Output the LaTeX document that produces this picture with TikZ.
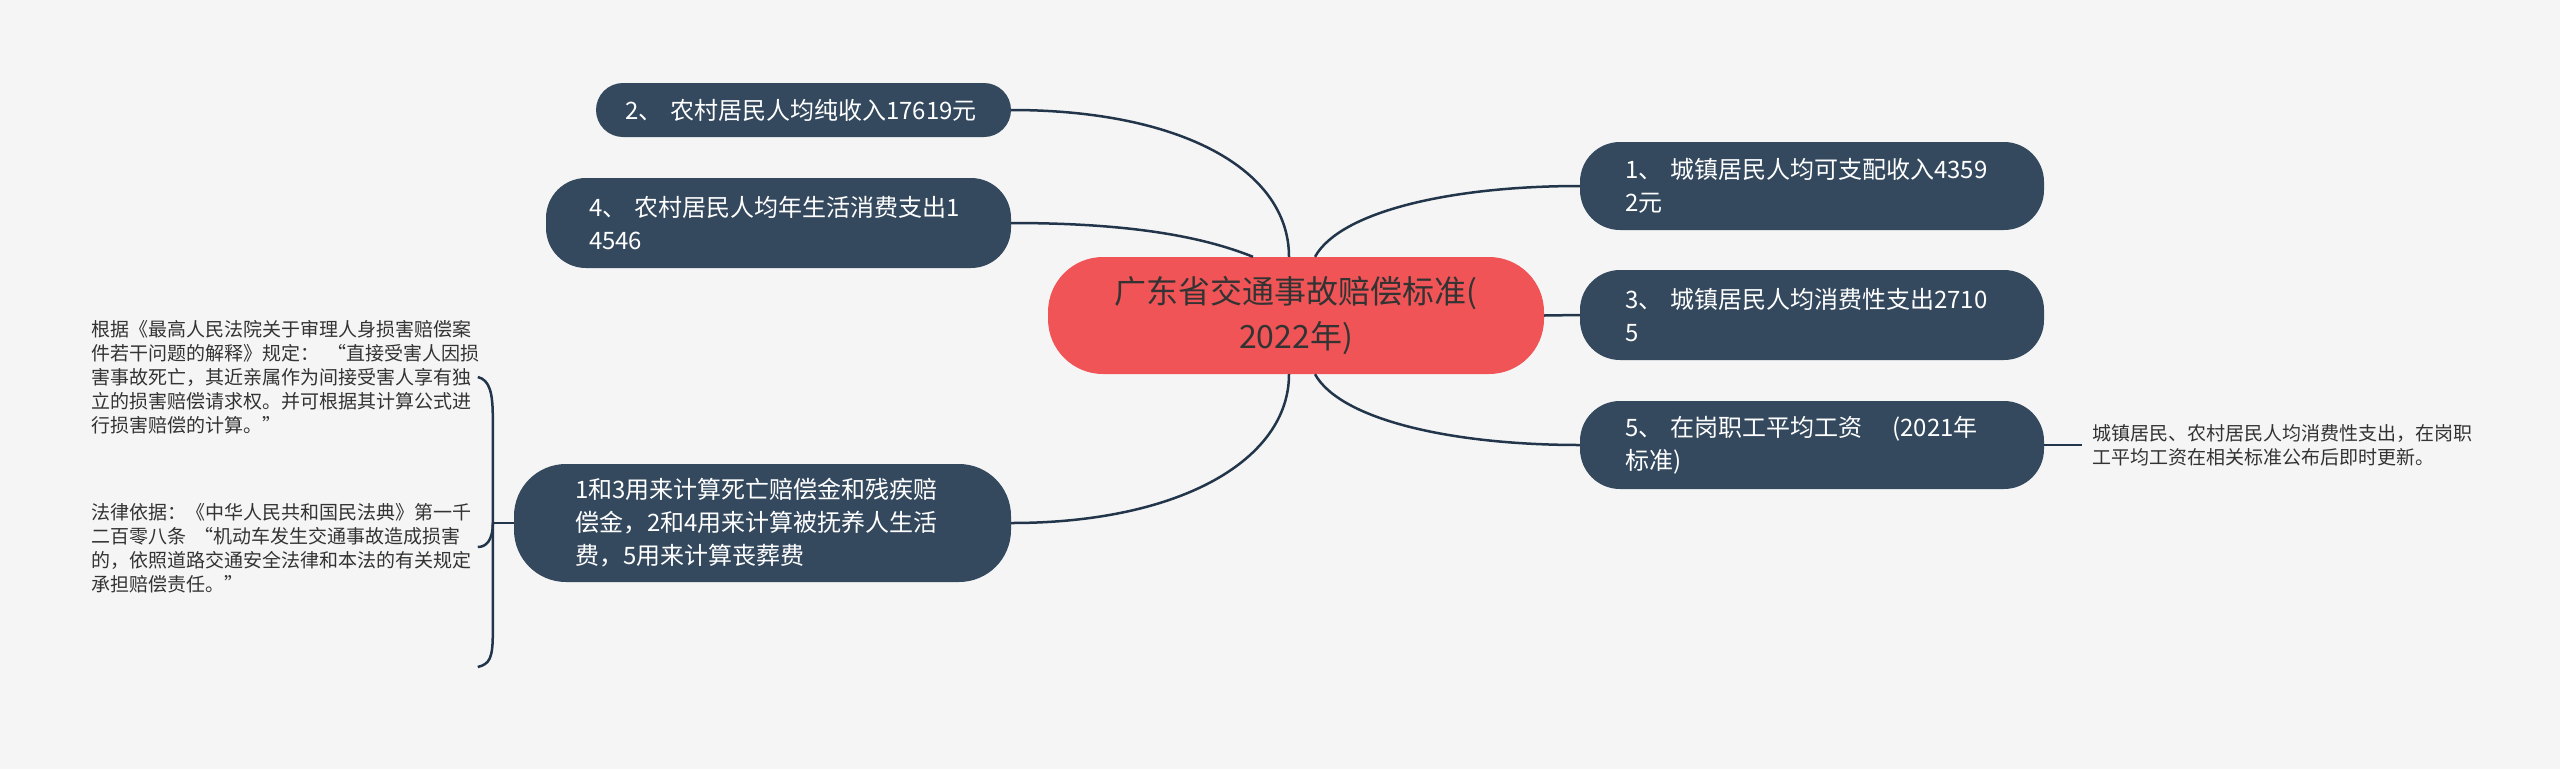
\documentclass[tikz,border=0pt]{standalone}
\usepackage{fontspec}
\setmainfont{Noto Sans CJK SC}
\usetikzlibrary{positioning,calc}

\definecolor{bgcol}{HTML}{F5F5F5}
\definecolor{topiccol}{HTML}{34495E}
\definecolor{rootcol}{HTML}{F05456}
\definecolor{linecol}{HTML}{22354A}
\definecolor{textcol}{HTML}{333333}

\begin{document}
\begin{tikzpicture}[
  x=1pt, y=-1pt,
  root/.style={fill=rootcol, text=textcol, font=\fontsize{32}{45}\selectfont, minimum width=496pt, minimum height=117pt, inner ysep=0pt, align=center, rounded corners=55pt},
  topic/.style={fill=topiccol, text=white, font=\fontsize{24}{33}\selectfont, inner xsep=45pt, inner ysep=0pt, text width=374pt, minimum height=88pt, align=left, rounded corners=40pt},
  note/.style={text=textcol, font=\fontsize{19}{24}\selectfont, inner sep=0pt, align=left},
  branch/.style={draw=linecol, line width=2.5pt},
]

\useasboundingbox[fill=bgcol] (0,0) rectangle (2560,769);

% Root
\node[root] (root) at (1296,315.5) {广东省交通事故赔偿标准(\\2022年)};

% Topics on the left
\node[topic, text width=357pt, inner xsep=29pt, minimum height=54pt, rounded corners=27pt] (n2) at (803.5,110) {2、~农村居民人均纯收入17619元};
\node[topic, text width=379pt, inner xsep=43pt, minimum height=90pt] (n4) at (778.5,223) {4、~农村居民人均年生活消费支出1\\4546};
\node[topic, text width=375pt, inner xsep=61pt, minimum height=118pt, rounded corners=52pt] (n13) at (762.5,523) {1和3用来计算死亡赔偿金和残疾赔\\偿金，2和4用来计算被抚养人生活\\费，5用来计算丧葬费};

% Topics on the right
\node[topic] (n1) at (1812,186) {1、~城镇居民人均可支配收入4359\\2元};
\node[topic, minimum height=90pt] (n3) at (1812,315) {3、~城镇居民人均消费性支出2710\\5};
\node[topic] (n5) at (1812,445) {5、~在岗职工平均工资\hspace{30pt}(2021年\\标准)};

% Notes
\node[note, inner xsep=10pt, right=38pt of n5] (n5note) {城镇居民、农村居民人均消费性支出，在岗职\\工平均工资在相关标准公布后即时更新。};
\node[note, anchor=west] (law1) at (91,377) {根据《最高人民法院关于审理人身损害赔偿案\\件若干问题的解释》规定：~~“直接受害人因损\\害事故死亡，其近亲属作为间接受害人享有独\\立的损害赔偿请求权。并可根据其计算公式进\\行损害赔偿的计算。”};
\node[note, anchor=west] (law2) at (91,548) {法律依据：《中华人民共和国民法典》第一千\\二百零八条~~“机动车发生交通事故造成损害\\的，依照道路交通安全法律和本法的有关规定\\承担赔偿责任。”};

% Branches from the root
\draw[branch] (n2.east) .. controls +(170,0) and +(0,-87) .. ($(root.north)+(-7,0)$);
\draw[branch] (n4.east) .. controls +(120,0) and +(-50,-20) .. ($(root.north)+(-43,0)$);
\draw[branch] (n13.east) .. controls +(170,0) and +(0,85) .. ($(root.south)+(-7,0)$);
\draw[branch] ($(root.north)+(19,0)$) .. controls +(25,-45) and +(-130,0) .. (n1.west);
\draw[branch] (root.east) -- (n3.west);
\draw[branch] ($(root.south)+(19,0)$) .. controls +(25,45) and +(-130,0) .. (n5.west);
\draw[branch] (n5.east) -- (n5note.west);

% Brace for the notes of n13
\draw[branch] (n13.west) -- ++(-21,0) coordinate (brace);
\draw[branch] ($(brace)+(-15,-146)$) .. controls +(12,3) and +(0,-25) .. ($(brace)+(0,-105)$) -- ($(brace)+(0,110)$) .. controls +(0,25) and +(12,-3) .. ($(brace)+(-15,144)$);
\draw[branch] (brace) .. controls +(0,18) and +(8,0) .. ($(brace)+(-15,24)$);

\end{tikzpicture}
\end{document}
